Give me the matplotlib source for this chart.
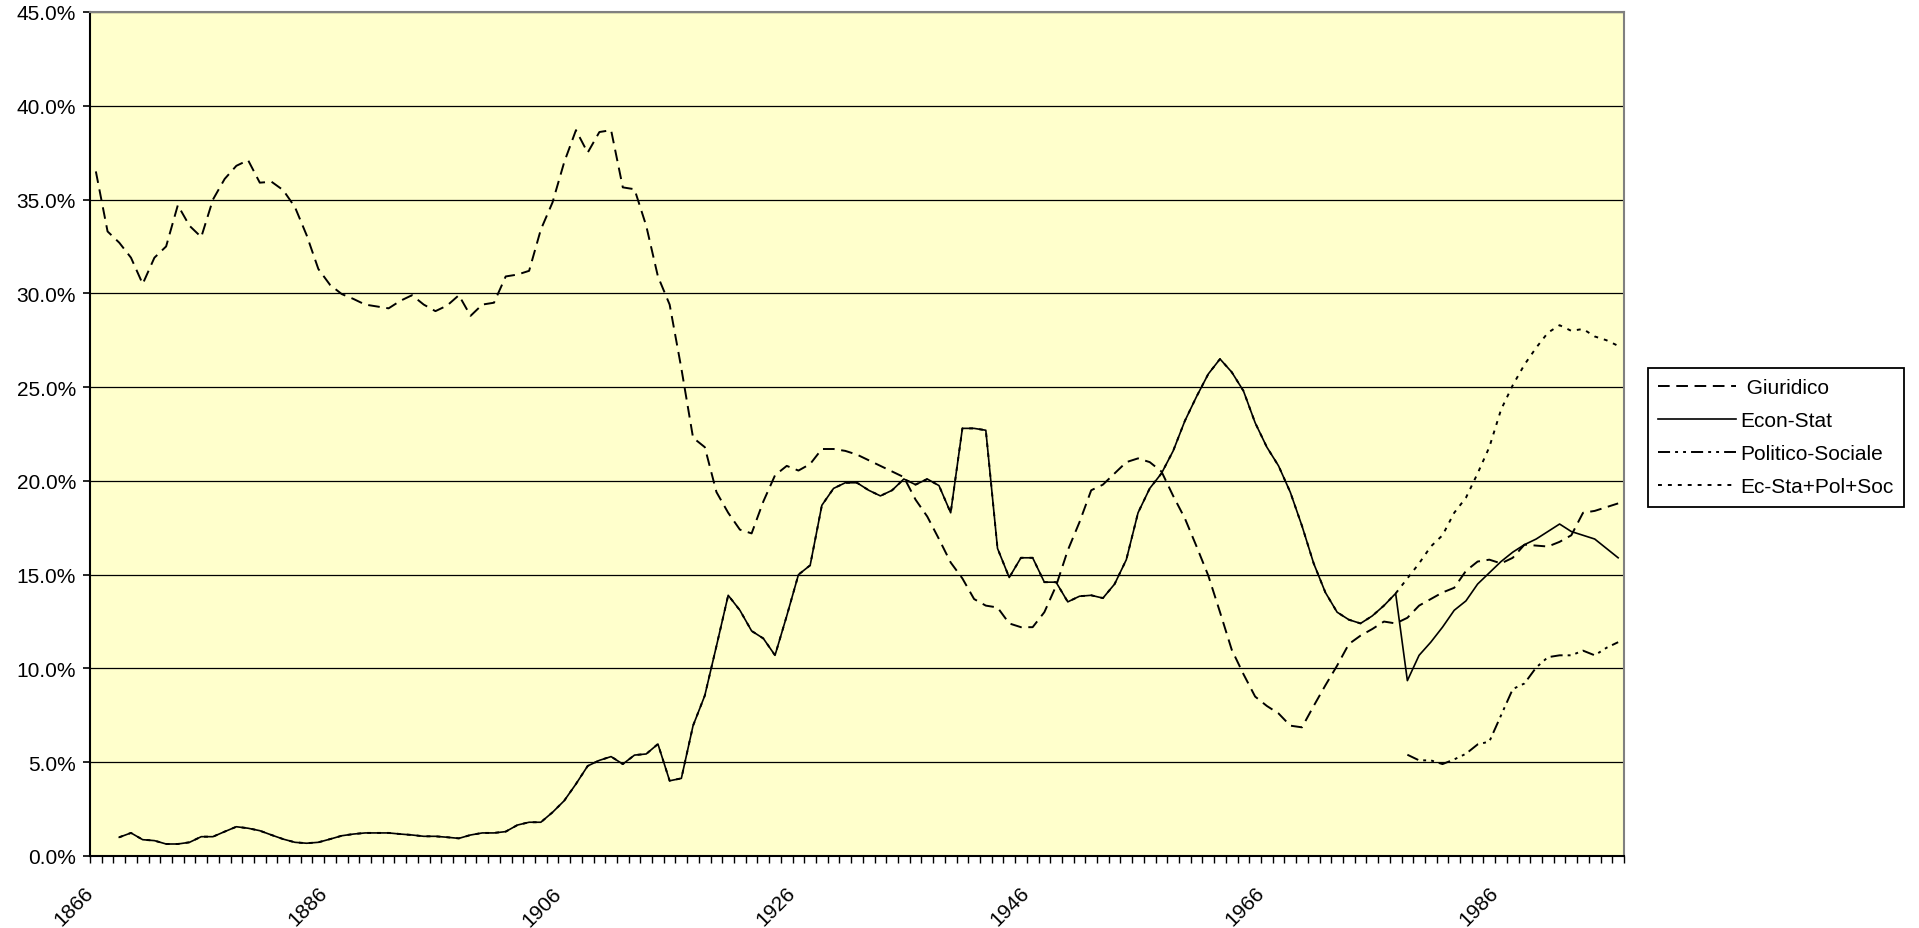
import numpy as np
import matplotlib
matplotlib.use("Agg")
import matplotlib.pyplot as plt
from matplotlib.ticker import FixedLocator, FuncFormatter, NullLocator
from matplotlib.transforms import blended_transform_factory, ScaledTranslation

plt.rcParams['font.family'] = ['Liberation Sans', 'DejaVu Sans']

years = list(range(1866, 1997))
label_years = [1866, 1886, 1906, 1926, 1946, 1966, 1986]

# quote percentuali per area disciplinare
giuridico = [
    36.5, 33.3, 32.7, 31.9, 30.5, 31.9, 32.5, 34.7, 33.6, 33.0,
    35.0, 36.1, 36.8, 37.1, 35.9, 35.95, 35.5, 34.6, 33.1, 31.3,
    30.45, 29.96, 29.7, 29.4, 29.3, 29.2, 29.6, 29.9, 29.4, 29.05,
    29.35, 29.9, 28.8, 29.4, 29.5, 30.9, 31.0, 31.2, 33.4, 34.85,
    37.0, 38.7, 37.5, 38.6, 38.7, 35.65, 35.55, 33.6, 30.9, 29.4,
    26.0, 22.3, 21.8, 19.4, 18.3, 17.4, 17.2, 18.9, 20.3, 20.8,
    20.55, 20.9, 21.7, 21.7, 21.6, 21.4, 21.1, 20.8, 20.5, 20.2,
    19.0, 18.1, 16.9, 15.65, 14.8, 13.7, 13.35, 13.25, 12.4, 12.2,
    12.2, 13.0, 14.4, 16.3, 17.8, 19.5, 19.8, 20.4, 21.0, 21.2,
    21.0, 20.5, 19.2, 18.0, 16.5, 14.95, 13.0, 11.0, 9.7, 8.5,
    8.0, 7.6, 6.95, 6.86, 8.0, 9.1, 10.15, 11.3, 11.75, 12.1,
    12.5, 12.4, 12.7, 13.35, 13.7, 14.05, 14.3, 15.2, 15.7, 15.8,
    15.6, 15.9, 16.6, 16.55, 16.5, 16.75, 17.1, 18.3, 18.4, 18.6, 18.8,
]

econ_stat = [np.nan, np.nan] + [
    1.0, 1.23, 0.87, 0.82, 0.64, 0.64, 0.73, 1.03, 1.03, 1.3,
    1.56, 1.48, 1.35, 1.12, 0.9, 0.73, 0.68, 0.73, 0.9, 1.08,
    1.17, 1.23, 1.23, 1.23, 1.17, 1.12, 1.05, 1.05, 1.0, 0.94,
    1.12, 1.23, 1.23, 1.3, 1.65, 1.8, 1.8, 2.33, 2.95, 3.84,
    4.8, 5.1, 5.3, 4.9, 5.38, 5.44, 5.97, 4.01, 4.14, 6.95,
    8.55, 11.2, 13.9, 13.1, 12.0, 11.6, 10.7, 12.8, 15.0, 15.5,
    18.7, 19.6, 19.9, 19.9, 19.5, 19.2, 19.5, 20.1, 19.8, 20.1,
    19.75, 18.3, 22.8, 22.8, 22.7, 16.4, 14.85, 15.9, 15.9, 14.6,
    14.6, 13.55, 13.85, 13.9, 13.75, 14.5, 15.8, 18.3, 19.6, 20.4,
    21.6, 23.2, 24.5, 25.7, 26.5, 25.8, 24.8, 23.1, 21.8, 20.8,
    19.4, 17.6, 15.6, 14.05, 13.0, 12.6, 12.4, 12.8, 13.35, 14.0,
    9.35, 10.7, 11.4, 12.2, 13.1, 13.6, 14.5, 15.1, 15.7, 16.2,
    16.6, 16.9, 17.3, 17.7, 17.3, 17.1, 16.9, 16.4, 15.9,
]

politico_sociale = [np.nan] * 112 + [
    5.4, 5.1, 5.1, 4.9, 5.15, 5.45, 5.95, 6.1, 7.5, 8.9,
    9.2, 10.05, 10.6, 10.7, 10.7, 10.95, 10.7, 11.1, 11.4,
]

# fino al 1977 la serie aggregata coincide con Econ-Stat
ec_sta_pol_soc = econ_stat[:112] + [
    14.8, 15.6, 16.5, 17.1, 18.3, 19.1, 20.4, 21.8, 23.8, 25.1,
    26.2, 27.1, 27.9, 28.3, 28.0, 28.1, 27.7, 27.5, 27.2,
]

fig = plt.figure(figsize=(19.19, 9.29), dpi=100)
ax = fig.add_axes([90 / 1919, 72 / 929, 1534 / 1919, 844 / 929])
ax.set_facecolor('#FFFFCC')

lw = 1.4
ax.plot(years, giuridico, color='black', lw=lw, dashes=(6.0, 3.4), label=' Giuridico')
ax.plot(years, econ_stat, color='black', lw=1.2, label='Econ-Stat')
ax.plot(years, politico_sociale, color='black', lw=lw,
        dashes=(6.2, 2.6, 1.5, 2.6, 1.5, 2.6), label='Politico-Sociale')
ax.plot(years, ec_sta_pol_soc, color='black', lw=lw, dashes=(2.0, 3.1),
        label='Ec-Sta+Pol+Soc')

ax.set_xlim(years[0] - 0.5, years[-1] + 0.5)
ax.set_ylim(0, 45)

ax.yaxis.set_major_locator(FixedLocator(np.arange(0, 46, 5)))
ax.yaxis.set_major_formatter(FuncFormatter(lambda v, p: f"{v:.1f}%"))
ax.yaxis.grid(True, color='black', lw=0.9)
ax.set_axisbelow(True)
ax.tick_params(axis='y', direction='out', length=5, width=1.2, pad=5.0,
               labelsize=15, colors='black')

ax.xaxis.set_major_locator(NullLocator())
ax.xaxis.set_minor_locator(FixedLocator(np.arange(years[0] - 0.5, years[-1] + 1, 1)))
ax.tick_params(axis='x', which='minor', direction='out', length=5, width=1.0)

for side in ('left', 'bottom'):
    ax.spines[side].set_color('black')
    ax.spines[side].set_linewidth(1.5)
for side in ('top', 'right'):
    ax.spines[side].set_color('#808080')
    ax.spines[side].set_linewidth(1.5)

# etichette degli anni inclinate a 45 gradi
trans = blended_transform_factory(ax.transData, ax.transAxes) + \
    ScaledTranslation(-0.125, -0.27, fig.dpi_scale_trans)
for y in label_years:
    ax.text(y, 0, str(y), transform=trans, rotation=45, rotation_mode='anchor',
            ha='right', va='top', fontsize=15)

leg = fig.legend(loc='upper left', bbox_to_anchor=(1648 / 1919, 1 - 369 / 929),
                 borderaxespad=0, fontsize=15, handlelength=3.7, handletextpad=0.24,
                 labelspacing=0.67, borderpad=0.5, fancybox=False, framealpha=1,
                 edgecolor='black')
leg.get_frame().set_linewidth(1.3)

fig.savefig('out.png', dpi=100, facecolor='white')
